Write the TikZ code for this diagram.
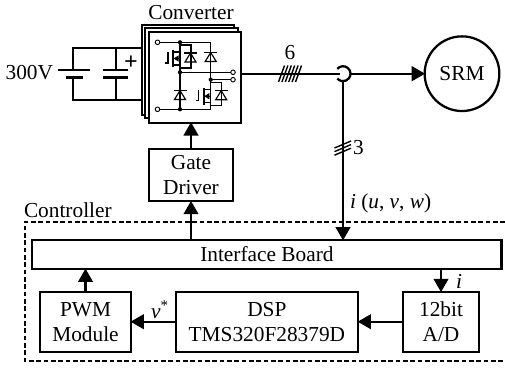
\documentclass[tikz,border=0pt]{standalone}
\usepackage{fontspec}
\setmainfont{Liberation Serif}
\usetikzlibrary{arrows.meta}
\tikzset{
  x=0.75pt, y=-0.75pt,
  every node/.style={font=\fontsize{16}{18.75}\selectfont, inner sep=0pt, outer sep=0pt, align=center},
  wire/.style={line width=1.7pt},
  arr/.style={line width=1.7pt, -{Triangle[length=10pt,width=11pt]}, shorten >=-0.3pt},
  box/.style={draw, line width=1.7pt, fill=white},
  fine/.style={line width=0.85pt},
  term/.style={draw, line width=0.7pt, fill=white, circle, minimum size=3.4pt},
  dotn/.style={fill=black, circle, minimum size=3.2pt},
  tick/.style={line width=1.05pt}
}
\newcommand{\diodeat}[2]{%
  \begin{scope}[shift={(#1,#2)}]
    \draw[fine,line join=miter] (-5.5,4.5) -- (5.5,4.5) -- (0,-4.5) -- cycle;
    \draw[fine] (-6.5,-4.5) -- (6.5,-4.5);
  \end{scope}}
\newcommand{\switchat}[2]{%
  \begin{scope}[shift={(#1,#2)}]
    \draw[fine] (-15,18) -- (-12,18) -- (-12,7);
    \draw[line width=1.3pt] (-7,5) -- (-7,22);
    \draw[fine] (-7,7) -- (0,7) (-7,20) -- (0,20);
    \draw[fine,-{Triangle[length=3.8pt,width=4.4pt]}] (0,13.5) -- (-6.5,13.5);
    \draw[fine] (0,0) -- (11,0) -- (11,23) -- (0,23);
    \diodeat{10.5}{12.5}
  \end{scope}}
\begin{document}
\begin{tikzpicture}
\useasboundingbox (0,0) rectangle (505,367);

% controller frame
\draw[line width=1.7pt, dash pattern=on 3.4pt off 2.1pt] (505,221.7) -- (25,221.7) -- (25,361) -- (505,361);

% converter stack
\node[box, minimum width=69pt, minimum height=67.5pt] (convc) at (188,70) {};
\node[box, minimum width=69.5pt, minimum height=67.5pt] (convb) at (191.5,73) {};
\node[box, minimum width=68.6pt, minimum height=67.7pt] (conv) at (195,77.5) {};

% blocks
\node[box, minimum width=63pt, minimum height=39pt] (gate) at (191,175.3) {Gate\\Driver};
\node[box, minimum width=352pt, minimum height=21.8pt] (iface) at (266.9,254.5) {Interface Board};
\node[box, minimum width=68.2pt, minimum height=45pt] (pwm) at (85.5,321.7) {PWM\\Module};
\node[box, minimum width=136.7pt, minimum height=45pt] (dsp) at (266.9,321.7) {DSP\\TMS320F28379D};
\node[box, minimum width=57pt, minimum height=45pt] (adc) at (441,321.7) {12bit\\A/D};
\node[draw, circle, line width=1.7pt, fill=white, minimum size=56pt] (srm) at (462,73.7) {SRM};

% labels
\node (lconv) at (191,13) {Converter};
\node[anchor=east] (lvolt) at (53,72.5) {300V};
\node[anchor=west] (lctrl) at (24,210) {Controller};
\node (lsix) at (290,53) {6};
\node[anchor=west] (lthree) at (353,148) {3};
\node[anchor=west] (lcur) at (350,203) {\textit{i} (\textit{u}, \textit{v}, \textit{w})};
\node (li) at (459,281) {\textit{i}};
\node (lv) at (160,310) {\textit{v}\textsuperscript{*}};
\node (lplus) at (131,62.5) {\fontsize{18}{18}\selectfont\textbf{+}};

% capacitors
\coordinate (capa) at (73,47.7);
\coordinate (capb) at (73,100);
\coordinate (capc) at (115.7,47.7);
\coordinate (capd) at (115.7,100);
\draw[wire] (convc.west |- capa) -- (capa) -- (73,70);
\draw[wire] (convc.west |- capb) -- (capb) -- (73,77.5);
\draw[wire] (capc) -- (115.7,70) (capd) -- (115.7,77.5);
\draw[wire] (58,70) -- (90,70) (66,77.5) -- (83,77.5);
\draw[wire] (103,70) -- (128,70) (103,77.5) -- (128,77.5);

% converter circuit
\coordinate (ra) at (157.5,42.3);
\coordinate (rb) at (157.5,109.3);
\draw[fine] (ra) -- (210.7,42.3) -- (210.7,109.3) -- (rb);
\draw[fine] (180,42.3) -- (180,109.3);
\draw[fine] (180,72.3) -- (233,72.3);
\draw[fine] (210.7,79.7) -- (233,79.7);
\switchat{180}{45}
\switchat{210.7}{82.7}
\diodeat{210.7}{57}
\diodeat{180}{95}
\node[term] (t1) at (ra) {};
\node[term] (t2) at (rb) {};
\node[term] (t3) at (233,72.3) {};
\node[term] (t4) at (233,79.7) {};
\node[dotn] (d1) at (180,42.3) {};
\node[dotn] (d2) at (180,72.3) {};
\node[dotn] (d3) at (180,109.3) {};
\node[dotn] (d4) at (210.7,79.7) {};

% output with hop
\coordinate (hopl) at (340,73.7);
\coordinate (hopr) at (350.5,73.7);
\coordinate (hopb) at (343,81);
\draw[wire] (conv.east |- hopl) -- (hopl);
\draw[wire] (337.3,68.9) arc[start angle=140, end angle=-140, radius=5.6pt];
\draw[arr] (hopr) -- (srm.west);
\draw[arr] (hopb) -- (hopb |- iface.north);

% ticks
\foreach \k in {0,...,5}
  \draw[tick] ({278.5+3.4*\k},82) -- ({284.5+3.4*\k},65.5);
\foreach \k in {0,1,2}
  \draw[tick] (334.5,{148+3.6*\k}) -- (351,{141+3.6*\k});

% connectors
\draw[arr] (gate.north) -- (gate.north |- conv.south);
\draw[arr] (gate.south |- iface.north) -- (gate.south);
\draw[arr] (pwm.north) -- (pwm.north |- iface.south);
\draw[arr] (adc.north |- iface.south) -- (adc.north);
\draw[arr] (adc.west) -- (dsp.east);
\draw[arr] (dsp.west) -- (pwm.east);
\end{tikzpicture}
\end{document}
